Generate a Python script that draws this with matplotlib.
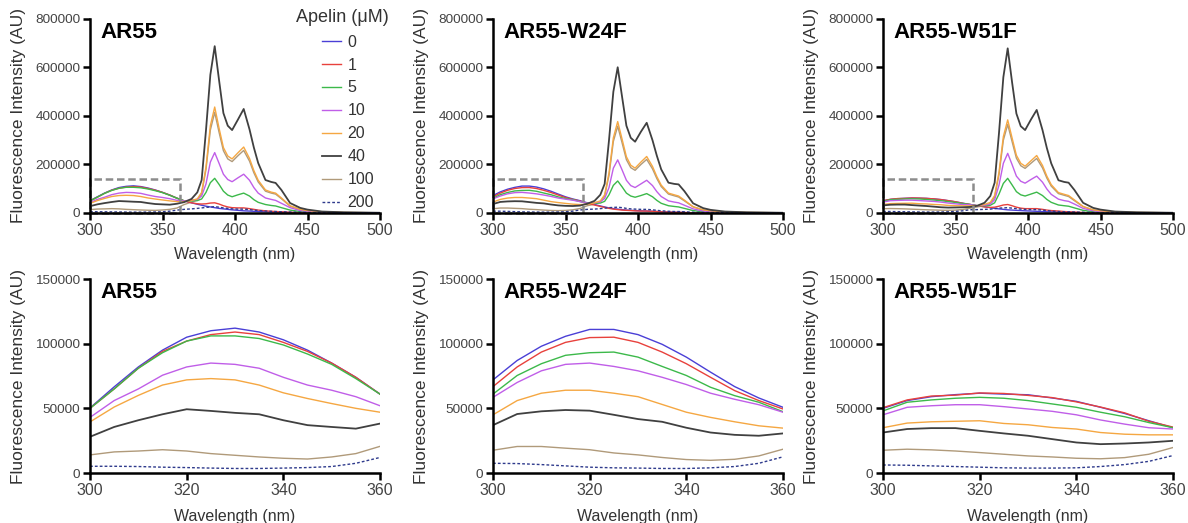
import numpy as np
import matplotlib
matplotlib.use('Agg')
import matplotlib.pyplot as plt
from matplotlib.patches import Rectangle

plt.rcParams['font.family'] = ['Liberation Sans', 'DejaVu Sans']

# apelin concentrations (uM) and line colours
conc = ['0', '1', '5', '10', '20', '40', '100', '200']
colors = ['#4a3fd6', '#e8413c', '#3cb94a', '#c05ee8', '#f5a742', '#404040', '#b09a7a', '#2e3a8c']

titles = ['AR55', 'AR55-W24F', 'AR55-W51F']

# 300-360 nm region, values in thousands (rows follow conc order)
w_low = [300, 305, 310, 315, 320, 325, 330, 335, 340, 345, 350, 355, 360]
ar55_low = [
    [50.3, 66.6, 82, 95, 105, 110, 112, 109, 103, 95, 85, 74, 61],
    [50, 65, 81, 94, 102, 107, 109, 107, 101, 94, 85, 74, 61],
    [50, 65, 81, 93, 102, 106, 106, 104, 99, 92, 84, 73, 61],
    [43, 56, 65, 75.6, 82, 85, 84, 81, 74, 68, 64, 59, 52],
    [39.5, 51, 60, 68, 72, 73, 72, 68, 62, 57.6, 53.7, 50, 47],
    [28, 35.6, 40.8, 45.4, 49.3, 48, 46.5, 45.4, 40.8, 37, 35.6, 34.3, 38.2],
    [14, 16.3, 17, 18, 17, 15, 13.7, 12.4, 11.4, 10.8, 12.4, 15, 20.6],
    [5.2, 5.2, 5, 4.5, 4.2, 3.8, 3.5, 3.5, 3.8, 4.2, 5, 7.5, 12],
]
w24f_low = [
    [72, 87, 98, 105.7, 111, 111, 107, 99.5, 89.6, 78, 66.8, 58, 50.8],
    [66.8, 82, 93.5, 101, 104.7, 105, 101, 93.5, 84.5, 74, 63.7, 56, 49.5],
    [61, 75.4, 84.5, 91, 93, 93.5, 89.6, 82.4, 75.4, 66.3, 59.8, 54.7, 47.4],
    [58.5, 70, 79, 84, 85, 82.4, 79, 74, 68.4, 61.7, 57, 52.8, 47],
    [45, 56, 61.7, 64, 64, 61.7, 59, 53, 47, 43, 39.6, 36.5, 34.7],
    [37, 45.6, 47.7, 48.7, 48.2, 45, 41.7, 39.6, 35, 31.3, 29.5, 28.8, 30.6],
    [17.6, 20.5, 20.5, 19.2, 18, 15.5, 14, 12, 10.4, 9.8, 10.6, 13.2, 18.4],
    [7.5, 7.3, 6.5, 5.5, 4.5, 4, 3.8, 3.5, 3.5, 4, 5, 7.5, 12.5],
]
w51f_low = [
    [50, 56, 59, 60.6, 61.7, 61, 60.5, 58, 55.4, 50.8, 46, 40.4, 35],
    [50.5, 56.5, 59.5, 60.2, 61.9, 61.5, 60, 58.3, 55, 51, 46.5, 40, 35.5],
    [48, 54.7, 56.5, 57.8, 58.5, 57.8, 56, 53.4, 50.8, 47, 43.5, 39, 35],
    [45, 50.8, 52, 52.8, 52.8, 51.3, 49.5, 47.7, 45, 41, 37.8, 35, 34],
    [35, 38.6, 39.6, 40, 40.4, 38.3, 37.3, 35.2, 34, 31.3, 30, 29.5, 29.5],
    [31.3, 34, 34.7, 34.7, 32.6, 30.6, 28.8, 26.2, 23.6, 22.3, 22.8, 23.6, 24.9],
    [17.6, 18.4, 17.9, 17, 15.8, 14.5, 13.2, 12.4, 11.4, 11, 11.9, 14.5, 19.7],
    [6.2, 6, 5.5, 5, 4.5, 4, 3.8, 3.8, 4, 5, 6.5, 9, 13.5],
]

# 365-500 nm region, values in thousands
w_high = [365, 370, 374, 377, 380, 383, 386, 389, 392, 395, 398, 402, 406, 410, 413,
          416, 421, 425, 428, 432, 438, 445, 450, 460, 475, 500]
ar55_high = [
    [50, 42, 36, 32, 28, 25, 22, 19, 17, 15, 13, 11, 9, 8, 7, 6, 5, 4, 4, 3, 2, 1, 1, 1, 0, 0],
    [50, 42, 38, 37, 38, 41, 42, 37, 30, 25, 22, 21, 21, 18, 15, 12, 9, 7, 6, 5, 3, 2, 1, 1, 0, 0],
    [50, 50, 51, 58, 85, 125, 143, 118, 90, 74, 67, 75, 82, 70, 55, 44, 35, 31, 29, 22, 12, 6, 4, 2, 1, 0],
    [50, 53, 56, 70, 120, 210, 249, 205, 160, 138, 129, 145, 160, 135, 105, 82, 62, 56, 52, 40, 22, 10, 7, 3, 1, 0],
    [47, 52, 58, 85, 190, 360, 437, 350, 270, 235, 223, 248, 272, 225, 175, 135, 95, 86, 82, 62, 30, 15, 10, 5, 2, 1],
    [45, 58, 85, 136, 342, 570, 688, 548, 412, 360, 342, 385, 429, 345, 270, 206, 136, 128, 124, 95, 41, 21, 14, 6, 3, 1],
    [35, 45, 53, 80, 180, 342, 415, 333, 257, 223, 212, 236, 258, 214, 166, 128, 90, 82, 78, 59, 28, 14, 9, 5, 2, 1],
    [15, 17, 19, 21, 23, 25, 26, 24, 21, 19, 17, 16, 16, 14, 12, 10, 8, 7, 6, 5, 4, 3, 2, 1, 1, 0],
]
w24f_high = [
    [42, 35, 29, 25, 21, 18, 16, 14, 12, 11, 10, 9, 8, 7, 6, 5, 4, 3, 3, 2, 1, 1, 1, 0, 0, 0],
    [40, 33, 27, 23, 19, 16, 14, 12, 11, 10, 9, 8, 8, 7, 6, 5, 4, 3, 3, 2, 1, 1, 1, 0, 0, 0],
    [40, 40, 41, 48, 75, 114, 132, 108, 82, 70, 65, 72, 80, 67, 52, 40, 30, 27, 25, 19, 10, 5, 3, 1, 1, 0],
    [40, 42, 46, 60, 105, 185, 219, 178, 135, 113, 105, 120, 135, 113, 88, 68, 50, 45, 42, 32, 17, 8, 5, 2, 1, 0],
    [36, 42, 50, 75, 165, 310, 377, 305, 232, 197, 185, 210, 233, 192, 150, 115, 82, 75, 70, 53, 26, 13, 9, 4, 2, 1],
    [38, 50, 75, 120, 300, 500, 601, 480, 360, 310, 294, 335, 372, 300, 236, 180, 125, 120, 118, 90, 40, 20, 13, 6, 3, 1],
    [30, 36, 45, 70, 155, 295, 358, 290, 220, 187, 176, 200, 221, 182, 142, 109, 78, 71, 66, 50, 25, 12, 8, 4, 2, 1],
    [15, 16, 18, 20, 22, 23, 24, 22, 19, 17, 16, 15, 15, 13, 11, 9, 7, 6, 6, 5, 3, 2, 2, 1, 0, 0],
]
w51f_high = [
    [30, 26, 22, 19, 17, 15, 13, 12, 11, 10, 9, 8, 7, 6, 5, 5, 4, 3, 3, 2, 1, 1, 1, 0, 0, 0],
    [30, 25, 23, 24, 28, 33, 35, 30, 24, 20, 18, 18, 18, 15, 12, 10, 8, 6, 5, 4, 2, 1, 1, 1, 0, 0],
    [30, 30, 32, 42, 78, 122, 143, 116, 88, 75, 70, 78, 86, 72, 56, 44, 33, 30, 28, 21, 11, 5, 3, 1, 1, 0],
    [30, 32, 37, 55, 115, 205, 246, 200, 152, 131, 123, 138, 152, 127, 99, 77, 57, 51, 48, 37, 19, 9, 6, 2, 1, 0],
    [30, 35, 44, 72, 168, 315, 384, 310, 238, 205, 193, 215, 237, 196, 152, 117, 84, 77, 72, 54, 27, 13, 9, 4, 2, 1],
    [30, 42, 70, 125, 330, 560, 679, 540, 410, 358, 342, 385, 425, 342, 268, 205, 135, 128, 125, 95, 42, 21, 14, 6, 3, 1],
    [25, 30, 39, 66, 158, 300, 365, 295, 226, 195, 184, 205, 225, 186, 144, 111, 80, 73, 68, 51, 26, 12, 8, 4, 2, 1],
    [14, 15, 16, 18, 20, 21, 22, 20, 18, 16, 15, 14, 14, 12, 10, 8, 6, 5, 5, 4, 3, 2, 1, 1, 0, 0],
]

lows = [ar55_low, w24f_low, w51f_low]
highs = [ar55_high, w24f_high, w51f_high]

W, H = 1188.0, 523.0
lefts = [90, 493, 883]

fig = plt.figure(figsize=(W / 100, H / 100), dpi=100)


def style(ax, xticks, yticks, title, xlab_y):
    for s in ['top', 'right']:
        ax.spines[s].set_visible(False)
    for s in ['left', 'bottom']:
        ax.spines[s].set_linewidth(1.8)
        ax.spines[s].set_color('black')
        ax.spines[s].set_zorder(6)
    ax.set_xticks(xticks)
    ax.set_yticks(yticks)
    ax.set_yticklabels([str(int(v)) for v in yticks], fontsize=9.7, color='#444444')
    ax.set_xticklabels([str(int(v)) for v in xticks], fontsize=11.5, color='#444444')
    ax.tick_params(direction='out', length=5, width=1.8, pad=2)
    ax.set_xlim(xticks[0], xticks[-1])
    ax.set_ylim(yticks[0], yticks[-1])
    ax.set_xlabel('Wavelength (nm)', fontsize=11.5, color='#333333')
    ax.set_ylabel('Fluorescence Intensity (AU)', fontsize=12.5, color='#333333')
    ax.yaxis.set_label_coords(-0.22, 0.5)
    ax.xaxis.set_label_coords(0.5, xlab_y)
    ax.text(0.035, 0.93, title, transform=ax.transAxes, fontsize=16,
            fontweight='bold', va='center', ha='left')


def draw(ax, x, rows):
    for i in range(8):
        y = np.array(rows[i]) * 1000
        ls = (0, (2, 1.5)) if i == 7 else '-'
        lw = 1.3 if i == 5 else 1.0
        z = 1.8 if i == 6 else 2
        ax.plot(x, y, color=colors[i], lw=lw, ls=ls, label=conc[i], zorder=z)


for p in range(3):
    # top: full spectrum
    axt = fig.add_axes([lefts[p] / W, 1 - 213 / H, 290 / W, 194 / H])
    full = [lows[p][i] + highs[p][i] for i in range(8)]
    draw(axt, w_low + w_high, full)
    axt.add_patch(Rectangle((300, 0), 62, 140000, fill=False, ec='#8c8c8c',
                            lw=1.8, ls=(0, (3, 1.5)), clip_on=False, zorder=5))
    style(axt, [300, 350, 400, 450, 500], [0, 200000, 400000, 600000, 800000], titles[p], -0.175)
    if p == 0:
        leg = axt.legend(loc='upper left', bbox_to_anchor=(0.80, 0.92), frameon=False,
                         fontsize=11.5, handlelength=1.2, handletextpad=0.4,
                         labelspacing=0.5, borderpad=0, borderaxespad=0)
        for t in leg.get_texts():
            t.set_color('#333333')
        axt.text(0.869, 1.01, 'Apelin (\u03bcM)', transform=axt.transAxes, fontsize=13,
                 color='#333333', ha='center', va='center')

    # bottom: zoom on 300-360 nm
    axb = fig.add_axes([lefts[p] / W, 1 - 473 / H, 290 / W, 194 / H])
    draw(axb, w_low, lows[p])
    style(axb, [300, 320, 340, 360], [0, 50000, 100000, 150000], titles[p], -0.185)

fig.savefig('out.png', dpi=100)
